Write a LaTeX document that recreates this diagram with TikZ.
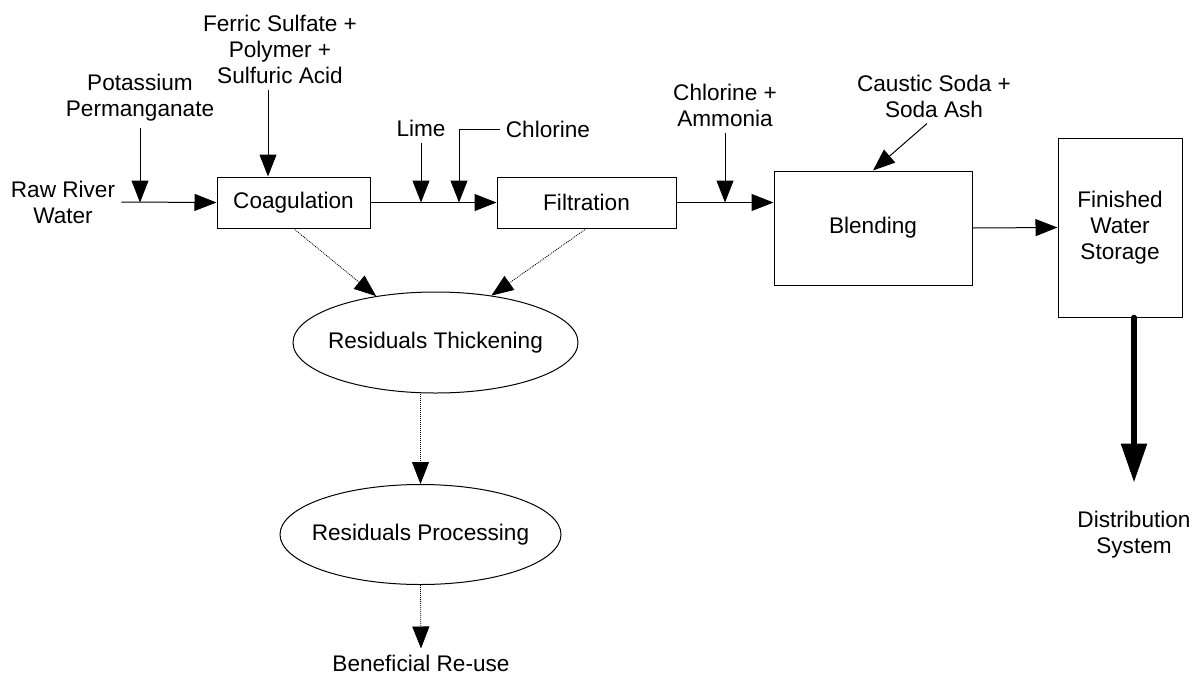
\documentclass[tikz,border=0pt]{standalone}
\usepackage{fontspec}
\setmainfont{Liberation Sans}
\usepackage{tikz}
\usetikzlibrary{arrows.meta,shapes.geometric,calc}

\tikzset{
  box/.style={draw,line width=1pt,inner sep=0pt,align=center},
  oval/.style={ellipse,draw,line width=1pt,inner sep=0pt},
  lbl/.style={inner sep=6pt,align=center},
  arr/.style={line width=1pt,-{Triangle[length=22pt,width=17pt]}},
  sludge/.style={arr,line width=0.8pt,dash pattern=on 1pt off 1pt},
  outflow/.style={line width=5.5pt,line cap=round,-{Triangle[length=39pt,width=25pt]}}
}

\begin{document}
\begin{tikzpicture}[x=1pt,y=-1pt,font=\fontsize{22.6}{26}\selectfont]
            \useasboundingbox (0,0) rectangle (1199,675);
            %工艺单元
            \node[box,minimum width=153pt,minimum height=51pt] (coag) at (293.5,202.5) {Coagulation};
            \node[box,minimum width=179pt,minimum height=51pt] (filt) at (586.5,202.5) {Filtration};
            \node[box,minimum width=198pt,minimum height=114pt] (blend) at (873,228) {Blending};
            \node[box,minimum width=124pt,minimum height=179pt] (fin) at (1120,227.5) {Finished\\Water\\Storage};
            \node[oval,minimum width=285pt,minimum height=101pt,label={center:Residuals Thickening}] (thick) at (435.5,342.5) {};
            \node[oval,minimum width=281pt,minimum height=100pt,label={center:Residuals Processing}] (proc) at (420.5,534.5) {};
            %药剂与进出水文字
            \node[lbl] (raw) at (63,202) {Raw River\\Water};
            \node[lbl] (kmn) at (140,98) {Potassium\\Permanganate};
            \node[lbl] (ferric) at (280,49) {Ferric Sulfate +\\Polymer +\\Sulfuric Acid};
            \node[lbl] (lime) at (421,128) {Lime};
            \node[lbl] (cl) at (548,129) {Chlorine};
            \node[lbl] (amm) at (725,105) {Chlorine +\\Ammonia};
            \node[lbl] (caustic) at (934,96) {Caustic Soda +\\Soda Ash};
            \node[lbl] (dist) at (1134,535) {Distribution\\System};
            \node[lbl] (reuse) at (421,663) {Beneficial Re-use};
            \coordinate (fein) at ($(coag.north)+(-25.5,0)$); %混凝剂入口
            \coordinate (clin) at (459,202.5); %加氯点
            %主流程
            \draw[arr] (raw.east) -- (coag.west);
            \draw[arr] (coag.east) -- (filt.west);
            \draw[arr] (filt.east) -- (filt.east -| blend.west);
            \draw[arr] (blend.east) -- (fin.west);
            \draw[outflow] (fin.south -| dist) -- ++(0,165);
            %加药
            \draw[arr] (kmn.south) -- (kmn.south |- coag.west);
            \draw[arr] (fein |- ferric.south) -- (fein);
            \draw[arr] (lime.south) -- (lime.south |- coag.east);
            \draw[arr] (cl.west) -| (clin);
            \draw[arr] (amm.south) -- (amm.south |- filt.east);
            \draw[arr] ([xshift=-7pt]caustic.south) -- (blend.north);
            %排泥
            \draw[sludge] (coag.south) -- (thick.142);
            \draw[sludge] (filt.south) -- (thick.40);
            \draw[sludge] (proc.north |- thick.south) -- (proc.north);
            \draw[sludge] (proc.south) -- (reuse.north);
        \end{tikzpicture}
\end{document}
